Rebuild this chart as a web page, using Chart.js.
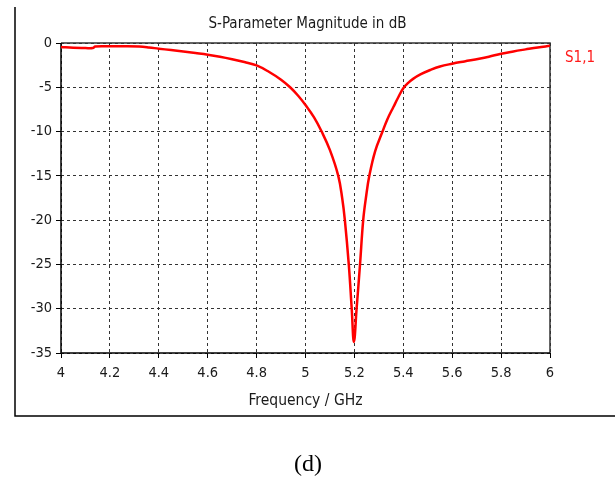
<!DOCTYPE html>
<html>
<head>
<meta charset="utf-8">
<script src="https://cdn.jsdelivr.net/npm/chart.js@4/dist/chart.umd.min.js"></script>
<style>
    html, body { margin: 0; padding: 0; background: #fff; }
    canvas { display: block; }
</style>
</head>
<body>
<canvas id="s11Chart" width="615" height="477"></canvas>
<script>
"use strict"

// S1,1 sweep: frequency (GHz) and magnitude (dB)
var freq = [4.00, 4.05, 4.10, 4.13, 4.14, 4.20, 4.26, 4.32, 4.36, 4.40,
            4.45, 4.50, 4.55, 4.60, 4.65, 4.70, 4.75, 4.80, 4.85, 4.90,
            4.937, 4.97, 5.00, 5.035, 5.066, 5.10, 5.134, 5.15, 5.161, 5.177,
            5.189, 5.198, 5.209, 5.223, 5.236, 5.248, 5.261, 5.285, 5.315, 5.335,
            5.36, 5.38, 5.40, 5.42, 5.44, 5.47, 5.51, 5.55, 5.60, 5.65,
            5.71, 5.75, 5.80, 5.85, 5.90, 5.95, 6.00];
var s11 = [-0.45, -0.55, -0.57, -0.57, -0.40, -0.38, -0.37, -0.40, -0.50, -0.64,
           -0.80, -0.97, -1.14, -1.32, -1.55, -1.83, -2.15, -2.53, -3.25, -4.15,
           -5.00, -5.95, -7.00, -8.40, -10.0, -12.1, -15.0, -17.5, -20.0, -25.0,
           -30.0, -33.75, -30.0, -25.0, -20.0, -17.3, -15.0, -12.2, -10.0, -8.60,
           -7.20, -6.10, -5.10, -4.50, -4.05, -3.55, -3.05, -2.65, -2.34, -2.08,
           -1.78, -1.55, -1.21, -0.95, -0.72, -0.50, -0.32];

var freqRange = [4, 6];
var freqStep = 0.2;
var dbRange = [-35, 0];
var dbStep = 5;

var seriesName = 'S1,1';
var chartTitle = 'S-Parameter Magnitude in dB';
var xAxisTitle = 'Frequency / GHz';
var caption = '(d)';

var uiFont = "'DejaVu Sans Condensed', 'DejaVu Sans', sans-serif";
var textColor = '#1a1a1a';

var points = freq.map(function(f, i) {
    return { x: f, y: s11[i] };
});

// plot box, legend label, outer frame and caption
var framePlugin = {
    id: 'pageFrame',
    beforeDatasetsDraw: function(chart) {
        var a = chart.chartArea;
        var ctx = chart.ctx;
        ctx.save();
        ctx.lineWidth = 1.5;
        ctx.strokeStyle = '#333';
        ctx.beginPath();
        ctx.moveTo(a.left, a.top);
        ctx.lineTo(a.right, a.top);
        ctx.lineTo(a.right, a.bottom);
        ctx.stroke();
        ctx.strokeStyle = '#000';
        ctx.beginPath();
        ctx.moveTo(a.left, a.top);
        ctx.lineTo(a.left, a.bottom);
        ctx.lineTo(a.right, a.bottom);
        ctx.stroke();
        ctx.restore();
    },
    afterDraw: function(chart) {
        var a = chart.chartArea;
        var ctx = chart.ctx;
        ctx.save();

        ctx.fillStyle = '#ff1a1a';
        ctx.font = '15px ' + uiFont;
        ctx.textAlign = 'left';
        ctx.textBaseline = 'middle';
        ctx.fillText(chart.data.datasets[0].label, a.right + 15, 58);

        ctx.strokeStyle = '#000';
        ctx.lineWidth = 1.5;
        ctx.beginPath();
        ctx.moveTo(15, 7);
        ctx.lineTo(15, 416);
        ctx.lineTo(615, 416);
        ctx.stroke();

        ctx.fillStyle = '#000';
        ctx.font = "24px 'Liberation Serif', 'Times New Roman', serif";
        ctx.textAlign = 'center';
        ctx.fillText(caption, 308, 465);
        ctx.restore();
    }
};

var gridStyle = {
    color: '#333',
    lineWidth: 1,
    tickLength: 5,
    tickColor: '#000',
    tickBorderDash: []
};

new Chart(document.getElementById('s11Chart'), {
    type: 'line',
    data: {
        datasets: [{
            label: seriesName,
            data: points,
            borderColor: '#ff0000',
            borderWidth: 2.5,
            pointRadius: 0,
            tension: 0.4,
            fill: false
        }]
    },
    options: {
        responsive: false,
        animation: false,
        layout: {
            padding: 0
        },
        plugins: {
            legend: { display: false },
            tooltip: { enabled: false },
            title: {
                display: true,
                text: chartTitle,
                color: textColor,
                font: { family: uiFont, size: 15, weight: 'normal' },
                padding: { top: 15.5, bottom: 9.5 }
            }
        },
        scales: {
            x: {
                type: 'linear',
                min: freqRange[0],
                max: freqRange[1],
                ticks: {
                    stepSize: freqStep,
                    padding: 7,
                    color: textColor,
                    font: { family: uiFont, size: 14.5 },
                    callback: function(v) { return String(+v.toFixed(1)); }
                },
                grid: gridStyle,
                border: { display: false, dash: [3, 3] },
                title: {
                    display: true,
                    text: xAxisTitle,
                    color: textColor,
                    font: { family: uiFont, size: 15.5 },
                    padding: { top: 0, bottom: 67 }
                },
                afterFit: function(scale) { scale.height = 124; }
            },
            y: {
                min: dbRange[0],
                max: dbRange[1],
                ticks: {
                    stepSize: dbStep,
                    padding: 4,
                    color: textColor,
                    font: { family: uiFont, size: 14.5 }
                },
                grid: gridStyle,
                border: { display: false, dash: [3, 3] },
                afterFit: function(scale) { scale.width = 61; }
            },
            // empty right-hand strip that holds the series label
            side: {
                position: 'right',
                grid: { display: false },
                ticks: { display: false },
                border: { display: false },
                afterFit: function(scale) { scale.width = 65; }
            }
        }
    },
    plugins: [framePlugin]
});
</script>
</body>
</html>
